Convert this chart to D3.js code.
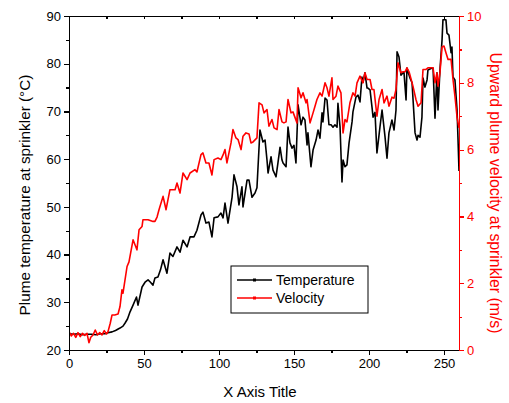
<!DOCTYPE html>
<html>
<head>
<meta charset="utf-8">
<script src="https://cdn.jsdelivr.net/npm/d3@7"></script>
<style>
  body { margin: 0; background: #fff; }
  svg text { font-family: "Liberation Sans", Arial, sans-serif; }
  .axis path, .axis line { shape-rendering: crispEdges; }
</style>
</head>
<body>
<div id="chart"></div>
<script>
// time (s) and plume temperature (°C)
const tempData = [[0,23.4],[3,23.3],[6,23.4],[9,23.2],[12,23.3],[15,23.3],[18,23.2],[21,23.4],[24,23.4],[26,23.6],[28.7,23.8],[31,24.1],[34,24.6],[36,25.0],[37.3,25.6],[39,26.5],[40.7,28.0],[42.7,29.4],[45,31.1],[46,29.4],[48.7,33.2],[50.7,34.2],[52.7,34.7],[54,34.3],[56,33.6],[57.3,35.1],[59.3,35.3],[61,36.8],[62.7,38.9],[65.3,36.1],[67.3,40.3],[69.3,39.6],[72,41.6],[74,40.5],[76,43.0],[78.7,41.6],[80.7,43.7],[83.3,43.7],[85.3,45.1],[88,48.3],[89.3,48.9],[91.3,46.6],[93.3,46.8],[95.3,43.7],[96.7,47.7],[99.3,47.9],[101.3,48.7],[102.7,47.7],[104,50.8],[106,46.6],[108.7,52.0],[110,56.7],[112,54.2],[113.3,50.4],[115.3,54.2],[116,50.0],[118.7,55.6],[120,55.6],[122,52.0],[124,52.9],[125.3,54.0],[127.3,66.1],[129.3,63.6],[130.7,64.0],[132,59.8],[132.7,57.1],[134.7,60.5],[136,57.7],[138,56.3],[139.3,59.2],[140.7,62.5],[142,59.8],[142.7,59.2],[144.7,58.4],[146,66.7],[147.3,63.4],[148.7,62.3],[150,62.9],[151.3,59.2],[152.7,71.4],[154.7,67.2],[156,68.8],[157.3,68.2],[158.7,63.0],[159.3,65.5],[161.3,58.4],[162.7,61.9],[164.7,64.0],[166,66.1],[167.3,64.4],[168.7,69.7],[169.3,67.8],[170.7,72.8],[172,72.4],[173.3,67.2],[174.7,67.2],[176,66.7],[177.3,67.2],[178.7,66.7],[179.3,71.7],[180.7,66.7],[182,55.2],[182.7,59.8],[184,58.4],[185.3,58.8],[186.7,63.4],[188.7,67.8],[189.3,69.9],[191.3,73.0],[192.7,73.4],[194,72.0],[195.3,77.2],[196,76.1],[197.3,78.1],[198.7,74.9],[199.3,74.9],[200.7,74.5],[202,70.9],[202.7,68.8],[204,69.8],[205.3,61.3],[207.3,66.7],[208.7,70.3],[210.7,64.6],[212,60.2],[213.3,65.5],[215.3,68.2],[216.7,66.1],[218,70.3],[218.7,82.5],[220,81.4],[221.3,77.6],[222.7,78.1],[223.3,78.3],[224.7,72.4],[225.3,79.1],[227.3,77.0],[228.7,76.0],[229.3,72.8],[230.7,65.5],[232,64.0],[232.7,65.0],[234,64.6],[235.3,68.8],[236,77.0],[237.3,75.1],[238.7,76.6],[239.3,78.7],[242,79.1],[242.7,79.1],[244,68.6],[245.3,78.1],[246,70.3],[247.3,78.7],[248.7,85.0],[249.3,89.2],[251.3,89.2],[252,86.4],[253.3,86.0],[254.7,82.3],[255.3,83.5],[256,77.2],[257.3,76.6],[258.7,70.3],[259.3,64.6],[260,57.5]];

// time (s) and upward plume velocity (m/s)
const velData = [[0,0.55],[1.5,0.42],[3,0.5],[4.5,0.38],[6,0.52],[7.5,0.4],[9,0.5],[10.5,0.44],[12,0.5],[13.3,0.22],[14.5,0.38],[16,0.45],[17.5,0.6],[19,0.45],[20.5,0.52],[22,0.45],[23.5,0.58],[25,0.48],[26,0.55],[27.5,0.8],[28.7,1.05],[30.5,1.05],[32.7,1.08],[34,1.3],[35.3,1.8],[36,1.7],[38.7,2.5],[40,2.64],[42.7,3.3],[45.3,3.0],[46.7,3.6],[48.7,3.7],[49.3,3.9],[52.7,3.9],[56,3.85],[57.3,3.85],[58.7,3.98],[60,4.2],[62.7,4.6],[64.7,4.2],[67.3,4.8],[70.7,4.8],[72,5.0],[74,4.7],[76,5.3],[78.7,5.1],[80.7,5.3],[84,5.4],[85.3,5.33],[88,5.85],[89.3,5.9],[91.3,5.6],[93.3,5.6],[95.3,5.24],[96.7,5.7],[99.3,5.75],[101.3,5.7],[102.7,5.84],[104,6.0],[105.3,5.6],[108,6.2],[109.3,6.6],[111.3,6.35],[112.7,6.3],[114.7,6.0],[116,6.4],[118,6.5],[120,6.47],[121.3,6.2],[122.7,6.23],[125.3,6.35],[126.7,7.4],[128.7,7.34],[130,7.1],[132,7.2],[133.3,6.7],[135.3,6.9],[136.7,6.65],[138.7,6.6],[140,7.2],[142,6.83],[143.3,6.8],[144.7,6.83],[146,7.5],[148,7.1],[149.3,7.13],[152,6.8],[152.7,7.85],[154.7,7.55],[156,7.7],[158,7.4],[158.7,7.5],[160.7,6.8],[162.7,7.1],[164,7.3],[165.3,7.5],[167.3,7.7],[168.7,7.6],[170.7,8.0],[172,7.85],[173.3,7.6],[175.3,8.15],[176,7.5],[178,7.6],[179.3,7.9],[181.3,7.7],[182.7,6.5],[184,6.9],[185.3,6.83],[187.3,7.4],[189.3,7.7],[190.7,7.6],[192,8.0],[194,8.2],[196,8.0],[197.3,8.3],[198.7,8.1],[200.7,8.1],[202,7.8],[203.3,7.8],[205.3,7.0],[206.7,7.5],[208.7,7.8],[210,7.4],[212,7.6],[213.3,7.3],[215.3,7.57],[216.7,7.54],[218,7.8],[219.3,8.6],[221.3,8.3],[222.7,8.33],[224,8.33],[225.3,8.45],[226.7,8.33],[228.7,8.0],[229.3,7.9],[231.3,7.5],[232.7,7.3],[234.7,7.4],[236,8.4],[238,8.4],[239.3,8.45],[241.3,8.45],[242.7,8.45],[244,8.0],[245.3,8.3],[246,7.9],[247.3,8.3],[248.7,9.07],[250,9.1],[251.3,8.9],[252.7,8.7],[254.7,8.7],[256,8.1],[257.3,7.6],[258.7,6.97],[260,6.65]];

const xTicks = [0, 50, 100, 150, 200, 250];
const xMinor = [25, 75, 125, 175, 225];
const tempTicks = [20, 30, 40, 50, 60, 70, 80, 90];
const tempMinor = [25, 35, 45, 55, 65, 75, 85];
const velTicks = [0, 2, 4, 6, 8, 10];
const velMinor = [1, 3, 5, 7, 9];
const seriesNames = ["Temperature", "Velocity"];
const seriesColors = ["#000000", "#ff0000"];

const width = 509, height = 403;
const margin = {top: 16, right: 50, bottom: 53, left: 69};
const innerW = width - margin.left - margin.right;
const innerH = height - margin.top - margin.bottom;

const svg = d3.select("#chart").append("svg")
    .attr("width", width)
    .attr("height", height);

const g = svg.append("g")
    .attr("transform", `translate(${margin.left},${margin.top})`);

const x = d3.scaleLinear().domain([0, 260]).range([0, innerW]);
const yT = d3.scaleLinear().domain([20, 90]).range([innerH, 0]);
const yV = d3.scaleLinear().domain([0, 10]).range([innerH, 0]);

g.append("clipPath").attr("id", "clip")
    .append("rect").attr("x", 0).attr("y", -2).attr("width", innerW).attr("height", innerH + 4);

// lines
const lineT = d3.line().x(d => x(d[0])).y(d => yT(d[1]));
const lineV = d3.line().x(d => x(d[0])).y(d => yV(d[1]));

g.append("path").datum(tempData)
    .attr("clip-path", "url(#clip)")
    .attr("fill", "none").attr("stroke", seriesColors[0])
    .attr("stroke-width", 1.6).attr("stroke-linejoin", "round")
    .attr("d", lineT);

g.append("path").datum(velData)
    .attr("clip-path", "url(#clip)")
    .attr("fill", "none").attr("stroke", seriesColors[1])
    .attr("stroke-width", 1.6).attr("stroke-linejoin", "round")
    .attr("d", lineV);

// axes
function styleAxis(sel, color, fontSize) {
    sel.selectAll("path").attr("stroke", color).attr("stroke-width", 1.2);
    sel.selectAll("line").attr("stroke", color).attr("stroke-width", 1.2);
    sel.selectAll("text").attr("fill", color).style("font-size", fontSize + "px");
}

// bottom
const xAxis = g.append("g").attr("class", "axis").attr("transform", `translate(0,${innerH})`)
    .call(d3.axisBottom(x).tickValues(xTicks).tickSize(5).tickPadding(4).tickSizeOuter(0));
styleAxis(xAxis, "#000", 13);
const xAxisMinor = g.append("g").attr("class", "axis").attr("transform", `translate(0,${innerH})`)
    .call(d3.axisBottom(x).tickValues(xMinor).tickSize(3).tickFormat("").tickSizeOuter(0));
styleAxis(xAxisMinor, "#000", 13);

// top (ticks inward, no labels)
const topAxis = g.append("g").attr("class", "axis")
    .call(d3.axisTop(x).tickValues(xTicks.concat(xMinor)).tickSize(-3).tickFormat("").tickSizeOuter(0));
styleAxis(topAxis, "#000", 13);

// left
const yAxis = g.append("g").attr("class", "axis")
    .call(d3.axisLeft(yT).tickValues(tempTicks).tickSize(5).tickPadding(3).tickSizeOuter(0));
styleAxis(yAxis, "#000", 13);
const yAxisMinor = g.append("g").attr("class", "axis")
    .call(d3.axisLeft(yT).tickValues(tempMinor).tickSize(3).tickFormat("").tickSizeOuter(0));
styleAxis(yAxisMinor, "#000", 13);

// right (red)
const vAxis = g.append("g").attr("class", "axis").attr("transform", `translate(${innerW},0)`)
    .call(d3.axisRight(yV).tickValues(velTicks).tickSize(5).tickPadding(3).tickSizeOuter(0));
styleAxis(vAxis, "#ff0000", 13);
const vAxisMinor = g.append("g").attr("class", "axis").attr("transform", `translate(${innerW},0)`)
    .call(d3.axisRight(yV).tickValues(velMinor).tickSize(3).tickFormat("").tickSizeOuter(0));
styleAxis(vAxisMinor, "#ff0000", 13);

// axis titles
svg.append("text")
    .attr("x", margin.left + innerW / 2 - 4).attr("y", 397)
    .attr("text-anchor", "middle").style("font-size", "15px")
    .text("X Axis Title");

svg.append("text")
    .attr("transform", "translate(30,195) rotate(-90)")
    .attr("text-anchor", "middle").style("font-size", "15.3px")
    .text("Plume temperature at sprinkler (\u00B0C)");

svg.append("text")
    .attr("transform", "translate(490,193) rotate(90)")
    .attr("text-anchor", "middle").style("font-size", "15.8px")
    .attr("fill", "#ff0000")
    .text("Upward plume velocity at sprinkler (m/s)");

// legend
const legend = svg.append("g").attr("transform", "translate(231,266)");
legend.append("rect")
    .attr("width", 137).attr("height", 47)
    .attr("fill", "#fff").attr("stroke", "#000").attr("stroke-width", 1);

seriesNames.forEach((name, i) => {
    const row = legend.append("g").attr("transform", `translate(0,${14 + i * 18})`);
    row.append("line").attr("x1", 6).attr("x2", 41).attr("y1", 0).attr("y2", 0)
        .attr("stroke", seriesColors[i]).attr("stroke-width", 1.6);
    row.append("rect").attr("x", 22).attr("y", -1.5).attr("width", 3).attr("height", 3)
        .attr("fill", seriesColors[i]);
    row.append("text").attr("x", 45).attr("y", 5).style("font-size", "14px")
        .text(name);
});
</script>
</body>
</html>
